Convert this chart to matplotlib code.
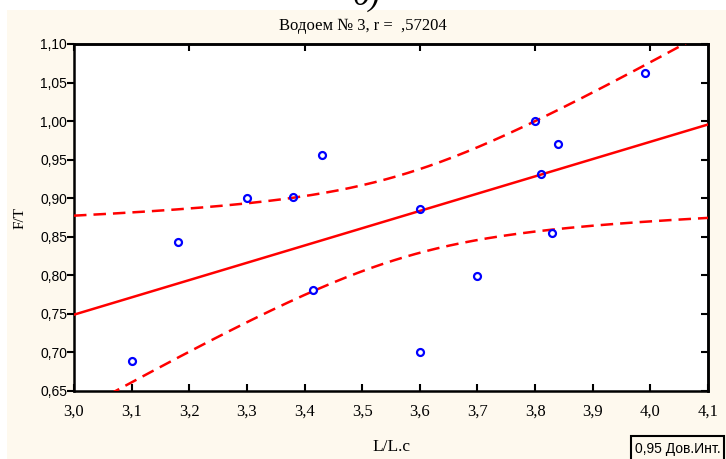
import numpy as np
import matplotlib
matplotlib.use("Agg")
import matplotlib.pyplot as plt
from matplotlib.patches import Rectangle
from matplotlib.ticker import MultipleLocator, FuncFormatter

# Observations: L/L.c against F/T for reservoir No. 3
ratio_l = [3.10, 3.18, 3.30, 3.38, 3.43, 3.415, 3.60, 3.60, 3.70, 3.80, 3.81, 3.83, 3.84, 3.99]
ratio_ft = [0.689, 0.843, 0.900, 0.901, 0.956, 0.781, 0.886, 0.701, 0.799, 1.000, 0.931, 0.855, 0.970, 1.062]

title_text = "Водоем № 3, r =  ,57204"
x_label = "L/L.c"
y_label = "F/T"
legend_text = "0,95 Дов.Инт."
x_range = (3.0, 4.1)
y_range = (0.65, 1.10)
t_crit = 2.179  # Student t, 0.975 quantile, 12 d.f.

x = np.asarray(ratio_l)
y = np.asarray(ratio_ft)
n = len(x)
slope, intercept = np.polyfit(x, y, 1)
resid = y - (slope * x + intercept)
s = np.sqrt(np.sum(resid ** 2) / (n - 2))
sxx = np.sum((x - x.mean()) ** 2)

xs = np.linspace(x_range[0], x_range[1], 300)
fit = slope * xs + intercept
half = t_crit * s * np.sqrt(1.0 / n + (xs - x.mean()) ** 2 / sxx)

serif = ["Liberation Serif", "DejaVu Serif"]
sans = ["Liberation Sans", "DejaVu Sans"]
W, H = 726, 459

fig = plt.figure(figsize=(W / 100, H / 100), dpi=100)
fig.patch.set_facecolor("white")
fig.add_artist(Rectangle((7 / W, 0), 1, 1 - 10 / H, transform=fig.transFigure,
                         facecolor="#FEF9EE", edgecolor="none", zorder=0))
fig.text(366 / W, 1 - 5 / H, "б)", family=serif, style="italic", fontsize=24,
         ha="center", va="baseline", color="black")

ax = fig.add_axes([74 / W, 1 - 391 / H, (708 - 74) / W, (391 - 44) / H])
ax.set_facecolor("white")

ax.plot(xs, fit, color="#FF0000", lw=1.8, zorder=3)
ax.plot(xs, fit + half, color="#FF0000", lw=1.8, ls=(0, (5, 2.8)), zorder=3)
ax.plot(xs, fit - half, color="#FF0000", lw=1.8, ls=(0, (5, 2.8)), zorder=3)
ax.plot(x, y, ls="none", marker="o", ms=5, mfc="none", mec="#0000FF", mew=1.6, zorder=4)

ax.set_xlim(*x_range)
ax.set_ylim(*y_range)

for sp in ax.spines.values():
    sp.set_linewidth(1.8)
    sp.set_color("black")

comma = FuncFormatter(lambda v, p: f"{v:.1f}".replace(".", ","))
comma2 = FuncFormatter(lambda v, p: f"{v:.2f}".replace(".", ","))
ax.xaxis.set_major_locator(MultipleLocator(0.1))
ax.yaxis.set_major_locator(MultipleLocator(0.05))
ax.xaxis.set_major_formatter(comma)
ax.yaxis.set_major_formatter(comma2)

ax.tick_params(axis="x", direction="in", length=5, width=1.5, bottom=True, top=False,
               pad=9, labelsize=12)
ax.tick_params(axis="y", direction="out", length=5, width=1.5, left=True, right=False,
               pad=0, labelsize=10)
for lab in ax.get_xticklabels():
    lab.set_family(serif)
for lab in ax.get_yticklabels():
    lab.set_family(sans)

# top ticks every 0.2, right ticks every 0.05, both pointing inward
top = ax.secondary_xaxis("top")
top.xaxis.set_major_locator(MultipleLocator(0.2))
top.tick_params(direction="in", length=5, width=1.5, labeltop=False)
top.spines["top"].set_linewidth(1.8)
right = ax.secondary_yaxis("right")
right.yaxis.set_major_locator(MultipleLocator(0.05))
right.tick_params(direction="in", length=5, width=1.5, labelright=False)
right.spines["right"].set_linewidth(1.8)

fig.text(363 / W, 1 - 29.5 / H, title_text, family=serif, fontsize=12,
         ha="center", va="baseline")
fig.text(391 / W, 1 - 447 / H, x_label, family=serif, fontsize=12.5, ha="center", va="center")
fig.text(20 / W, 1 - 218 / H, y_label, family=serif, fontsize=11, ha="center", va="center",
         rotation=90)

# legend frame runs past the lower edge of the figure
fig.add_artist(Rectangle((631 / W, -10 / H), (724 - 631) / W, (10 + 459 - 436) / H,
                         transform=fig.transFigure, facecolor="#FEF9EE",
                         edgecolor="black", lw=1.5, zorder=2))
fig.text(678 / W, 1 - 449 / H, legend_text, family=sans, fontsize=10, ha="center",
         va="center", color="black", zorder=3)

fig.savefig("out.png", dpi=100, facecolor=fig.get_facecolor())
